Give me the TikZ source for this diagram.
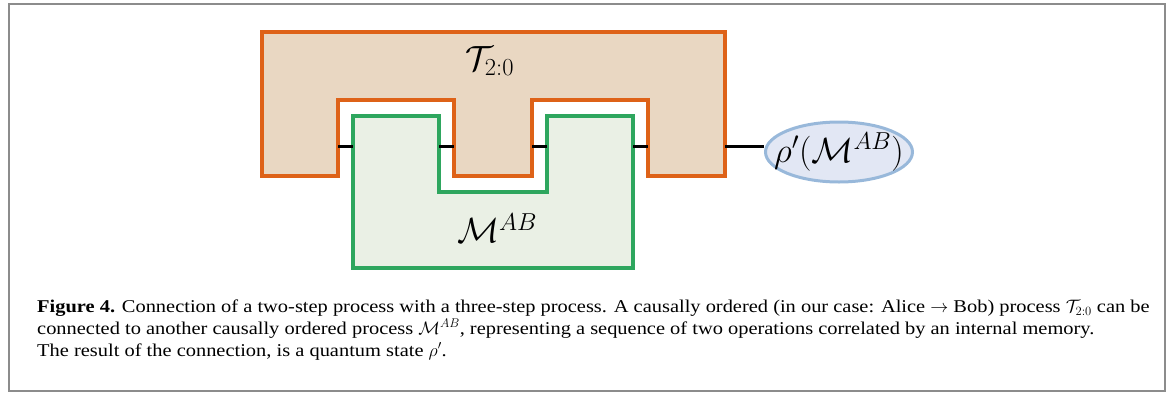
\documentclass[tikz,border=0pt]{standalone}
\usepackage{fix-cm}
\usepackage{fontspec}
\setmainfont{Liberation Serif}[FakeStretch=1.135]
\definecolor{orangeC}{RGB}{222,98,24}
\definecolor{beigeC}{RGB}{233,215,194}
\definecolor{greenC}{RGB}{46,166,94}
\definecolor{lgreenC}{RGB}{234,240,229}
\definecolor{blueC}{RGB}{152,184,218}
\definecolor{lblueC}{RGB}{226,231,244}
\definecolor{frameC}{RGB}{140,140,140}
\tikzset{
  tproc/.style={draw=orangeC, fill=beigeC, line width=3.4pt, line join=miter},
  mproc/.style={draw=greenC, fill=lgreenC, line width=3.2pt, line join=miter},
  wire/.style={draw=black, line width=3pt},
  statenode/.style={ellipse, draw=blueC, fill=lblueC, line width=3pt, minimum width=147pt, minimum height=60pt, inner sep=0pt},
  mathlbl/.style={inner sep=0pt, font=\fontsize{35}{41}\selectfont},
  capline/.style={anchor=base west, inner sep=0pt, font=\fontsize{18}{22}\selectfont},
  framebox/.style={draw=frameC, line width=2pt}
}
\usetikzlibrary{shapes.geometric}
\begin{document}
\begin{tikzpicture}[x=1pt,y=-1pt]
\useasboundingbox (0,0) rectangle (1171,394);
\draw[framebox] (8.5,4) rectangle (1164.5,391);
% process T_{2:0}
\path[tproc] (262,32) -- (725,32) -- (725,176) -- (648,176) -- (648,100) -- (532,100) -- (532,176) -- (454,176) -- (454,100) -- (338,100) -- (338,176) -- (262,176) -- cycle;
% process M^{AB}
\path[mproc] (353,116) -- (439,116) -- (439,192) -- (547,192) -- (547,116) -- (633,116) -- (633,268) -- (353,268) -- cycle;
\node[mathlbl] (T) at (490,61) {$\mathcal{T}_{2:0}$};
\node[mathlbl] (M) at (497,228) {$\mathcal{M}^{AB}$};
\node[statenode, font=\fontsize{35}{41}\selectfont] (rho) at (839,152) {\makebox[0pt]{$\rho'(\mathcal{M}^{AB})$}};
% wire end points
\coordinate (t1) at (338,146);
\coordinate (m1) at (353,146);
\coordinate (m2) at (439,146);
\coordinate (t2) at (454,146);
\coordinate (t3) at (532,146);
\coordinate (m3) at (547,146);
\coordinate (m4) at (633,146);
\coordinate (t4) at (648,146);
\coordinate (t5) at (725,146);
\draw[wire] (t1) -- (m1);
\draw[wire] (m2) -- (t2);
\draw[wire] (t3) -- (m3);
\draw[wire] (m4) -- (t4);
\draw[wire] (t5) -- (t5 -| rho.west);
% caption
\node[capline] (c1) at (37,312.5) {\textbf{Figure 4.} Connection of a two-step process with a three-step process. A causally ordered (in our case: Alice $\rightarrow$ Bob) process $\mathcal{T}_{2:0}$ can be};
\node[capline] (c2) at (37,334.5) {connected to another causally ordered process $\mathcal{M}^{AB}$, representing a sequence of two operations correlated by an internal memory.};
\node[capline] (c3) at (37,356.5) {The result of the connection, is a quantum state $\rho'$.};
\end{tikzpicture}
\end{document}
